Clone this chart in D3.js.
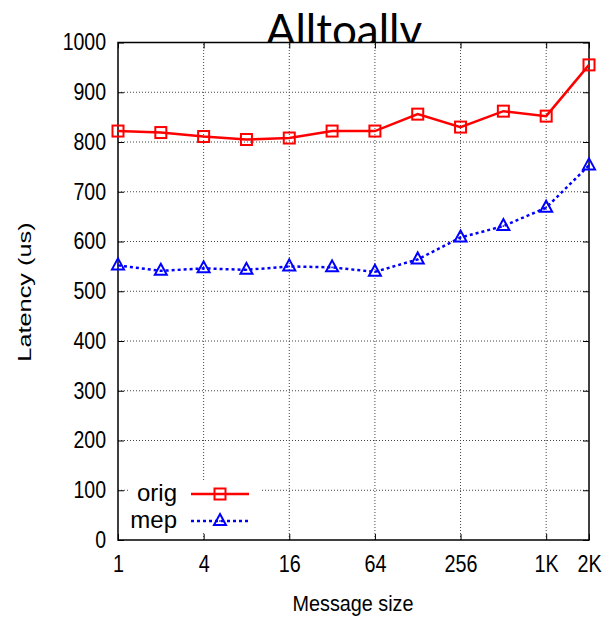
<!DOCTYPE html>
<html>
<head>
<meta charset="utf-8">
<script src="https://cdn.jsdelivr.net/npm/d3@7"></script>
<style>
  body { margin: 0; background: #fff; }
  svg { display: block; font-family: "Liberation Sans", Arial, sans-serif; }
</style>
</head>
<body>
<div id="chart"></div>
<script>
// message sizes (log2 steps)
const sizes = ["1", "2", "4", "8", "16", "32", "64", "128", "256", "512", "1K", "2K"];
const tickLabels = ["1", "4", "16", "64", "256", "1K", "2K"];
const yTicks = [0, 100, 200, 300, 400, 500, 600, 700, 800, 900, 1000];

// latency (us)
const orig = [822, 819, 811, 805, 808, 822, 822, 856, 830, 862, 852, 955];
const mep = [552, 541, 546, 543, 550, 548, 539, 564, 608, 631, 668, 753];

const width = 603;
const height = 619;
const margin = { top: 42.5, right: 14, bottom: 79, left: 118 };

const svg = d3.select("#chart")
    .append("svg")
    .attr("width", width)
    .attr("height", height);

const x = d3.scalePoint()
    .domain(sizes)
    .range([margin.left, width - margin.right]);

const y = d3.scaleLinear()
    .domain([0, 1000])
    .range([height - margin.bottom, margin.top]);

const x0 = margin.left, x1 = width - margin.right;
const y0 = height - margin.bottom, y1 = margin.top;

// Title (bottom is hidden behind the plot box, like the original)
svg.append("text")
    .attr("x", 344)
    .attr("y", 46)
    .attr("text-anchor", "middle")
    .style("font-family", "Lato, 'Open Sans', sans-serif")
    .style("font-size", "44px")
    .text("Alltoallv");

// plot background
svg.append("rect")
    .attr("x", x0)
    .attr("y", y1)
    .attr("width", x1 - x0)
    .attr("height", y0 - y1)
    .attr("fill", "#fff");

// grid
const grid = svg.append("g")
    .attr("stroke", "#444")
    .attr("stroke-width", 1)
    .attr("stroke-dasharray", "1,2");

grid.selectAll(".hgrid")
    .data(yTicks.filter(d => d > 0 && d < 1000))
    .enter()
    .append("line")
    .attr("x1", x0)
    .attr("x2", x1)
    .attr("y1", d => y(d))
    .attr("y2", d => y(d));

grid.selectAll(".vgrid")
    .data(tickLabels.filter(d => d !== "1" && d !== "2K"))
    .enter()
    .append("line")
    .attr("x1", d => x(d))
    .attr("x2", d => x(d))
    .attr("y1", y0)
    .attr("y2", y1);

// axes with inward ticks (gnuplot style, mirrored)
const yAxis = svg.append("g")
    .attr("transform", `translate(${x0},0)`)
    .call(d3.axisLeft(y).tickValues(yTicks).tickSize(-6).tickPadding(14).tickFormat(d3.format("d")));
yAxis.select(".domain").remove();
yAxis.selectAll("text")
    .style("font-size", "23px")
    .attr("transform", "scale(0.85,1)")
    .attr("fill", "#000");

const yAxisR = svg.append("g")
    .attr("transform", `translate(${x1},0)`)
    .call(d3.axisRight(y).tickValues(yTicks).tickSize(-6).tickFormat(""));
yAxisR.select(".domain").remove();

const xAxis = svg.append("g")
    .attr("transform", `translate(0,${y0})`)
    .call(d3.axisBottom(x).tickValues(tickLabels).tickSize(-6).tickPadding(16));
xAxis.select(".domain").remove();
xAxis.selectAll("text")
    .style("font-size", "23px")
    .attr("transform", "scale(0.86,1)")
    .attr("fill", "#000");

const xAxisT = svg.append("g")
    .attr("transform", `translate(0,${y1})`)
    .call(d3.axisTop(x).tickValues(tickLabels).tickSize(-6).tickFormat(""));
xAxisT.select(".domain").remove();

svg.selectAll(".tick line").attr("stroke", "#000").attr("stroke-width", 1);

// frame
svg.append("rect")
    .attr("x", x0)
    .attr("y", y1)
    .attr("width", x1 - x0)
    .attr("height", y0 - y1)
    .attr("fill", "none")
    .attr("stroke", "#000")
    .attr("stroke-width", 1.5);

// axis titles
svg.append("text")
    .attr("transform", "translate(353,611) scale(0.88,1)")
    .attr("text-anchor", "middle")
    .style("font-size", "22.5px")
    .text("Message size");

svg.append("text")
    .attr("transform", "translate(31,292) rotate(-90) scale(1.37,1)")
    .attr("text-anchor", "middle")
    .style("font-size", "18.5px")
    .text("Latency (us)");

// lines
const line = d3.line()
    .x((d, i) => x(sizes[i]))
    .y(d => y(d));

svg.append("path")
    .datum(orig)
    .attr("d", line)
    .attr("fill", "none")
    .attr("stroke", "#ff0000")
    .attr("stroke-width", 2.5);

svg.append("path")
    .datum(mep)
    .attr("d", line)
    .attr("fill", "none")
    .attr("stroke", "#0000ff")
    .attr("stroke-width", 2.5)
    .attr("stroke-dasharray", "3,3");

// markers
function square(g, cx, cy) {
    g.append("rect")
        .attr("x", cx - 5.5)
        .attr("y", cy - 5.5)
        .attr("width", 11)
        .attr("height", 11)
        .attr("fill", "none")
        .attr("stroke", "#ff0000")
        .attr("stroke-width", 2);
}
function triangle(g, cx, cy) {
    g.append("path")
        .attr("d", `M${cx},${cy - 7} L${cx + 6},${cy + 4} L${cx - 6},${cy + 4} Z`)
        .attr("fill", "none")
        .attr("stroke", "#0000ff")
        .attr("stroke-width", 2);
    g.append("rect")
        .attr("x", cx - 0.75)
        .attr("y", cy - 0.75)
        .attr("width", 1.5)
        .attr("height", 1.5)
        .attr("fill", "#0000ff");
}

const marks = svg.append("g");
orig.forEach((v, i) => square(marks, x(sizes[i]), y(v)));
mep.forEach((v, i) => triangle(marks, x(sizes[i]), y(v)));

// legend
const legend = svg.append("g");
legend.append("rect")
    .attr("x", 129)
    .attr("y", 481)
    .attr("width", 131)
    .attr("height", 52)
    .attr("fill", "#fff");

const legendItems = [
    { name: "orig", color: "#ff0000", dash: null, y: 494, mark: square },
    { name: "mep", color: "#0000ff", dash: "3,3", y: 521, mark: triangle }
];
legendItems.forEach(d => {
    legend.append("text")
        .attr("x", 177)
        .attr("y", d.y)
        .attr("dy", "0.3em")
        .attr("text-anchor", "end")
        .style("font-size", "24px")
        .text(d.name);
    legend.append("line")
        .attr("x1", 191)
        .attr("x2", 249)
        .attr("y1", d.y)
        .attr("y2", d.y)
        .attr("stroke", d.color)
        .attr("stroke-width", 2.5)
        .attr("stroke-dasharray", d.dash);
    d.mark(legend, 220, d.y);
});
</script>
</body>
</html>
